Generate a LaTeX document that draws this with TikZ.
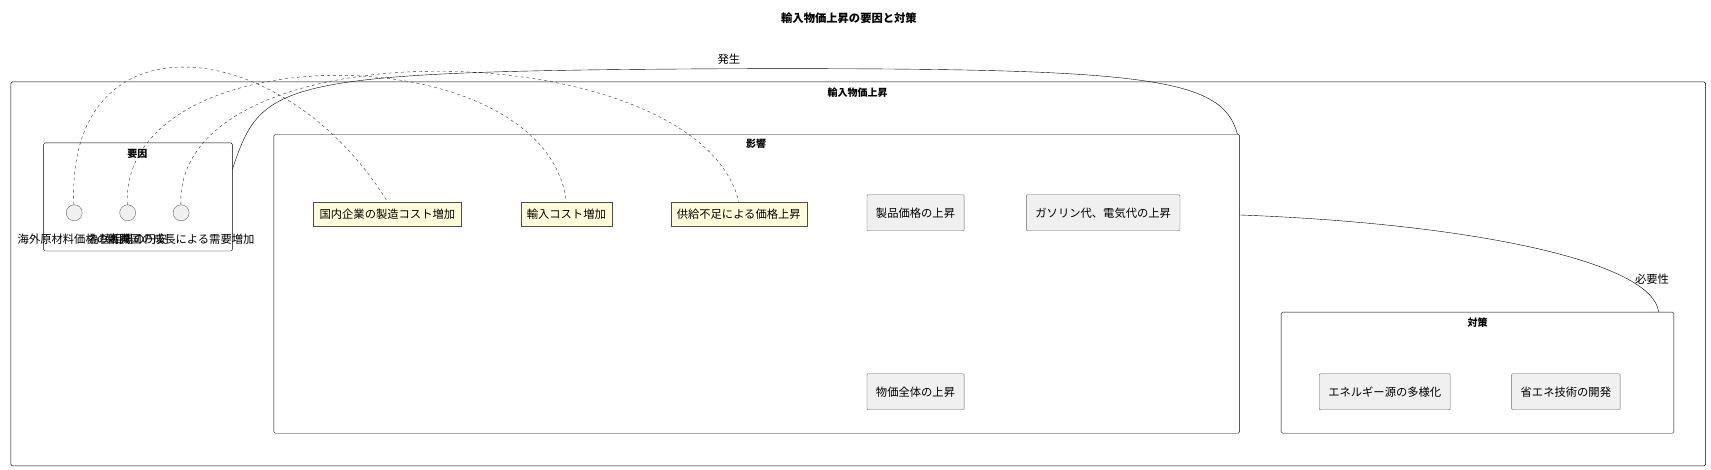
\documentclass[tikz,border=0pt]{standalone}
\usepackage{fontspec}
\setmainfont{Noto Sans CJK JP}
\usetikzlibrary{positioning,calc,shapes.misc}
\tikzset{font=\fontsize{11.3}{14}\selectfont}
\tikzset{
  frame/.style={draw, rounded corners=1.5pt},
  item/.style={draw=black!60, fill=black!6, rounded corners=1pt, minimum height=36pt, inner xsep=9pt},
  memo/.style={draw=black!70, fill=yellow!15, minimum height=24pt, inner xsep=6pt},
  cause/.style={circle, draw=black!60, fill=black!6, minimum size=16pt, inner sep=0pt},
  link/.style={dashed, black!80},
}
\begin{document}
\begin{tikzpicture}[x=1.0912pt, y=-1.0912pt]
	\useasboundingbox (0,0) rectangle (1568,430.7);
	\node[font=\fontsize{11.3}{14}\selectfont\bfseries] (title) at (778,17) {輸入物価上昇の要因と対策};

	% frames
	\draw[frame] (10,75) rectangle (1563,427);
	\node[font=\bfseries] (tmain) at (786,85) {輸入物価上昇};
	\draw[frame] (40,131) rectangle (213,230);
	\node[font=\bfseries] (tcause) at (126,141) {要因};
	\coordinate (causeR) at (213,155);
	\draw[frame] (251,123) rectangle (1136,397);
	\node[font=\bfseries] (teffect) at (693,132) {影響};
	\coordinate (effectT) at (1134,123);
	\coordinate (effectR) at (1136,197);
	\draw[frame] (1174,286) rectangle (1534,397);
	\node[font=\bfseries] (tplan) at (1354,296) {対策};
	\coordinate (planT) at (1520,286);

	% causes
	\node[cause] (c1) at (68,195) {};
	\node[cause] (c2) at (117,195) {};
	\node[cause] (c3) at (166,195) {};
	\node (l1) at (68,219) {海外原材料価格の高騰};
	\node (l2) at (117,219) {為替相場の円安};
	\node (l3) at (166,219) {新興国の成長による需要増加};

	% notes
	\node[memo] (n1) at (355,196) {国内企業の製造コスト増加};
	\node[memo] (n2) at (519,196) {輸入コスト増加};
	\node[memo] (n3) at (677,196) {供給不足による価格上昇};

	% effects and measures
	\node[item] (e1) at (839,195) {製品価格の上昇};
	\node[item] (e2) at (1011,195) {ガソリン代、電気代の上昇};
	\node[item] (e3) at (839,359) {物価全体の上昇};
	\node[item] (m1) at (1269,359) {エネルギー源の多様化};
	\node[item] (m2) at (1435,359) {省エネ技術の開発};

	\draw[link] (c1) .. controls (60,10) and (260,30) .. (n1.north);
	\draw[link] (c2) .. controls (110,30) and (500,30) .. (n2.north);
	\draw[link] (c3) .. controls (160,20) and (640,30) .. (n3.north);

	\draw (causeR) .. controls (240,75) and (250,65) .. (668,63) .. controls (1050,62) and (1120,70) .. (effectT);
	\node (lgen) at (668,54) {発生};
	\draw (effectR) .. controls (1350,205) and (1515,240) .. (planT);
	\node (lneed) at (1514,256) {必要性};
\end{tikzpicture}
\end{document}
